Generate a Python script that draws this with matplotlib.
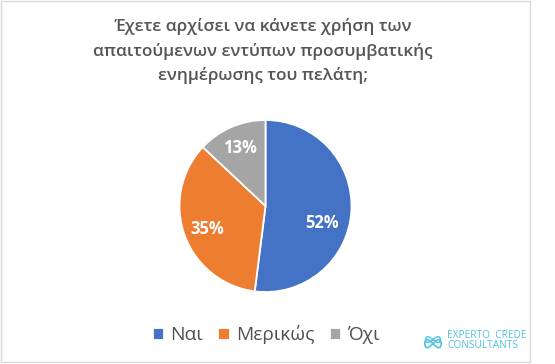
import matplotlib.pyplot as plt
import numpy as np
from matplotlib.patches import Rectangle

plt.rcParams['font.family'] = ['Open Sans', 'DejaVu Sans']

# δεδομένα
labels = ['Ναι', 'Μερικώς', 'Όχι']
values = [52, 35, 13]
colors = ['#4472C4', '#ED7D31', '#A5A5A5']
title = 'Έχετε αρχίσει να κάνετε χρήση των\nαπαιτούμενων εντύπων προσυμβατικής\nενημέρωσης του πελάτη;'

fig = plt.figure(figsize=(5.55, 3.64), dpi=100)
W, H = 555, 364

# πλαίσιο
fig.patches.append(Rectangle((1 / W, 1 - 362 / H), 529 / W, 361 / H, transform=fig.transFigure,
                             fill=False, edgecolor='#D9D9D9', linewidth=1))

# τίτλος
fig.text(263 / W, 1 - 51 / H, title, ha='center', va='center', fontsize=12.4,
         color='#555555', linespacing=1.55, fontweight='semibold')

# πίτα
r = 86
ax = fig.add_axes([(265.5 - r) / W, 1 - (206 + r) / H, 2 * r / W, 2 * r / H])
wedges, texts = ax.pie(values, colors=colors, startangle=90, counterclock=False,
                       wedgeprops=dict(edgecolor='white', linewidth=1.3))
# θέσεις ετικετών (best fit όπως στο Excel)
nudge = [-13, 2, 0]
dist = [0.69, 0.73, 0.74]
for w, v, dn, d in zip(wedges, values, nudge, dist):
    ang = np.deg2rad((w.theta1 + w.theta2) / 2 + dn)
    ax.text(d * np.cos(ang), d * np.sin(ang), f'{v}%', ha='center', va='center',
            color='white', fontsize=12, fontweight='bold')
ax.set_xlim(-1, 1)
ax.set_ylim(-1, 1)
ax.set_aspect('equal')

# υπόμνημα
leg = fig.legend(wedges, labels, loc='center', bbox_to_anchor=(266.5 / W, 1 - 335 / H), ncol=3,
                 frameon=False, fontsize=13.8, handlelength=0.58, handleheight=0.58,
                 handletextpad=0.35, columnspacing=0.8, labelcolor='#505050')

# λογότυπο
fig.text(447 / W, 1 - 335 / H, 'EXPERTO  CREDE', fontsize=7.3, color='#4FC3E0', va='center')
fig.text(447 / W, 1 - 346 / H, 'CONSULTANTS', fontsize=7.3, color='#4FC3E0', va='center')
lax = fig.add_axes([424 / W, 1 - 351 / H, 18 / W, 18 / H])
t = np.linspace(0, 2 * np.pi, 200)
lax.plot(np.sin(t), 0.5 * np.sin(2 * t) - 0.2, color='#4FC3E0', lw=1.2)
lax.plot(0.9 * np.sin(t), 0.35 * np.sin(2 * t) + 0.3, color='#4FC3E0', lw=1.0)
lax.set_xlim(-1.1, 1.1)
lax.set_ylim(-1.1, 1.1)
lax.axis('off')

fig.savefig('out.png', dpi=100)
